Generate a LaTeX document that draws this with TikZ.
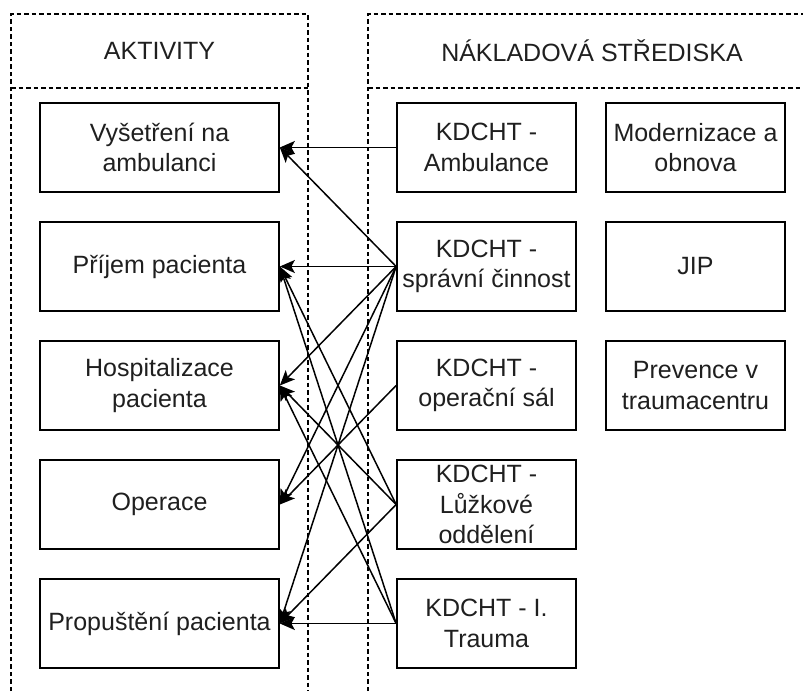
\documentclass[tikz,border=0pt]{standalone}
\usepackage{fontspec}
\setmainfont{Liberation Sans}
\usetikzlibrary{arrows.meta}

\begin{document}
\begin{tikzpicture}[x=1pt,y=-1pt,
  lane/.style={draw=black, line width=1.3pt, dash pattern=on 4.5pt off 3pt},
  txt/.style={font=\fontsize{25}{30.5}\selectfont, text=black!88},
  actbox/.style={txt, draw=black, line width=1.7pt, minimum width=239pt,
    minimum height=89pt, align=center, inner sep=0pt},
  costbox/.style={actbox, minimum width=179pt},
  conn/.style={draw=black, line width=1.5pt,
    -{Stealth[length=15pt,width=13pt,inset=3.5pt]}}
]
\useasboundingbox (0,0) rectangle (803,691);

% swimlanes
\draw[lane] (11,691) -- (11,14) -- (308,14) -- (308,691);
\draw[lane] (11,88) -- (308,88);
\draw[lane] (368,691) -- (368,14) -- (803,14);
\draw[lane] (368,88) -- (803,88);
\node[txt] (hAkt) at (159.5,51) {AKTIVITY};
\node[txt] (hNak) at (592,51) {NÁKLADOVÁ STŘEDISKA};

% activities
\node[actbox] (a1) at (159.5,147.5) {Vyšetření na\\ambulanci};
\node[actbox] (a2) at (159.5,266.5) {Příjem pacienta};
\node[actbox] (a3) at (159.5,385.5) {Hospitalizace\\pacienta};
\node[actbox] (a4) at (159.5,504.5) {Operace};
\node[actbox] (a5) at (159.5,623.5) {Propuštění pacienta};

% cost centres
\node[costbox] (k1) at (486.5,147.5) {KDCHT -\\Ambulance};
\node[costbox] (k2) at (486.5,266.5) {KDCHT -\\správní činnost};
\node[costbox] (k3) at (486.5,385.5) {KDCHT -\\operační sál};
\node[costbox] (k4) at (486.5,504.5) {KDCHT -\\Lůžkové\\oddělení};
\node[costbox] (k5) at (486.5,623.5) {KDCHT - I.\\Trauma};
\node[costbox] (m1) at (695.5,147.5) {Modernizace a\\obnova};
\node[costbox] (m2) at (695.5,266.5) {JIP};
\node[costbox] (m3) at (695.5,385.5) {Prevence v\\traumacentru};

% allocations
\draw[conn] (k1.west) -- (a1.east);
\draw[conn] (k2.west) -- (a1.east);
\draw[conn] (k2.west) -- (a2.east);
\draw[conn] (k2.west) -- (a3.east);
\draw[conn] (k2.west) -- (a4.east);
\draw[conn] (k2.west) -- (a5.east);
\draw[conn] (k3.west) -- (a4.east);
\draw[conn] (k4.west) -- (a2.east);
\draw[conn] (k4.west) -- (a3.east);
\draw[conn] (k4.west) -- (a5.east);
\draw[conn] (k5.west) -- (a2.east);
\draw[conn] (k5.west) -- (a3.east);
\draw[conn] (k5.west) -- (a5.east);
\end{tikzpicture}
\end{document}
